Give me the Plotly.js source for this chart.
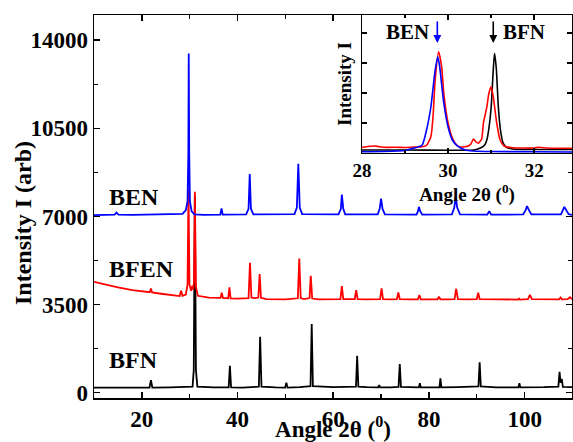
<!DOCTYPE html>
<html><head><meta charset="utf-8">
<script src="https://cdn.plot.ly/plotly-3.0.1.min.js"></script>
<style>html,body{margin:0;padding:0;background:#fff}</style>
</head><body><div id="chart" style="width:573px;height:442px"></div>
<script>
// ---- main pattern data: [2theta, intensity] ----
const bfnPoints = [[10,200],[14,190],[18,195],[21.6,200],[21.9,500],[22.2,200],[26,210],[30.6,240],[30.85,900],[31.08,7800],[31.3,900],[31.6,240],[35,210],[38.15,210],[38.4,1070],[38.65,210],[41,200],[44.45,240],[44.72,2220],[45.0,240],[48,210],[49.95,200],[50.2,400],[50.45,200],[53,220],[55.25,260],[55.5,2730],[55.75,260],[60,220],[64.75,240],[65.0,1470],[65.25,240],[67,220],[69.4,210],[69.6,305],[69.8,210],[72,215],[73.65,230],[73.9,1140],[74.15,230],[76,220],[77.9,210],[78.1,373],[78.3,210],[80,215],[82.2,210],[82.4,570],[82.6,210],[86,220],[90.35,250],[90.6,1206],[90.85,250],[94,215],[98.7,210],[98.9,373],[99.1,210],[104,220],[107.05,240],[107.3,833],[107.5,400],[107.75,550],[108.0,230],[109.9,220]];
const bfenPoints = [[10,4400],[12,4300],[15,4180],[18,4070],[20,4010],[21.65,3990],[21.9,4140],[22.15,3980],[24,3930],[26,3880],[27.9,3840],[28.2,4050],[28.5,3850],[29.2,3900],[29.55,4300],[29.75,8100],[29.95,4300],[30.3,4050],[30.55,4250],[30.75,4100],[30.9,4400],[31.08,7976],[31.3,4200],[31.7,3850],[34,3780],[36.45,3765],[36.7,3970],[36.95,3765],[38.05,3750],[38.3,4180],[38.55,3750],[40,3740],[42.3,3760],[42.6,5160],[42.9,3780],[43.6,3760],[44.35,3780],[44.62,4710],[44.9,3770],[46,3720],[50,3710],[52.6,3750],[52.9,5330],[53.2,3760],[53.9,3720],[55.05,3760],[55.3,4640],[55.6,3740],[57,3710],[61.5,3720],[61.8,4230],[62.1,3720],[63,3710],[64.5,3720],[64.8,4075],[65.1,3720],[67,3710],[69.8,3720],[70.1,4140],[70.4,3720],[72,3710],[73.3,3720],[73.6,3980],[73.9,3720],[76,3710],[77.7,3710],[78.0,3876],[78.3,3710],[80,3705],[81.8,3710],[82.1,3810],[82.4,3710],[84,3705],[85.35,3720],[85.7,4128],[86.05,3720],[88,3705],[90.0,3720],[90.3,3970],[90.6,3720],[95,3705],[98.6,3700],[98.8,3740],[99.0,3700],[100.7,3720],[101.1,3890],[101.5,3720],[104,3705],[107.2,3710],[107.5,3780],[107.8,3710],[109,3720],[109.5,3790],[109.9,3715]];
const benPoints = [[10,7055],[13,7060],[14.3,7070],[14.7,7150],[15.1,7070],[18,7060],[22,7065],[26,7070],[28.5,7100],[29.2,7250],[29.55,7600],[29.72,9500],[29.8,13470],[29.9,9500],[30.05,7600],[30.4,7200],[31,7080],[33,7060],[36.4,7070],[36.65,7320],[36.9,7070],[41.8,7080],[42.3,7300],[42.55,8680],[42.8,7300],[43.3,7080],[51.9,7090],[52.4,7350],[52.7,9090],[53.0,7350],[53.5,7090],[61.1,7080],[61.6,7300],[61.8,7870],[62.1,7300],[62.5,7080],[69.3,7080],[69.7,7300],[70.0,7710],[70.3,7300],[70.8,7080],[77.4,7070],[77.7,7200],[77.9,7380],[78.2,7200],[78.6,7070],[84.8,7080],[85.3,7350],[85.6,7780],[85.9,7350],[86.5,7080],[92.2,7070],[92.6,7210],[93.0,7070],[99.7,7080],[100.2,7250],[100.5,7410],[100.9,7250],[101.4,7080],[107.6,7080],[108.0,7250],[108.3,7380],[108.7,7250],[109.2,7090],[109.9,7060]];

// ---- inset data (28-33 deg region, arbitrary units) ----
const insetBen = [[28.0,1.3],[28.5,1.5],[29.0,2.5],[29.12,4],[29.3,6],[29.4,8],[29.5,23],[29.6,46],[29.7,83],[29.76,96.3],[29.8,88],[29.9,50],[30.0,26],[30.1,13],[30.2,7.7],[30.4,3],[30.6,2],[31.0,1.5],[32.0,1.3],[32.9,1]];
const insetBfen = [[28.0,5.7],[28.1,6.2],[28.2,6.8],[28.3,7],[28.4,6.3],[28.6,5.6],[28.8,5.8],[29.0,5.5],[29.2,6],[29.4,6.3],[29.5,7.7],[29.6,16.3],[29.65,36.3],[29.7,73],[29.78,101.3],[29.85,86.3],[29.9,60],[30.0,30],[30.1,15],[30.2,8],[30.3,6],[30.47,7],[30.53,9],[30.59,14],[30.65,11],[30.7,9.7],[30.78,14],[30.82,29.7],[30.9,46],[30.95,60],[31.0,66.3],[31.05,56.3],[31.13,30],[31.21,13],[31.3,7],[31.5,5.3],[32.0,5],[32.1,5.7],[32.3,5],[32.6,4.7],[32.9,4.7]];
const insetBfn = [[28.0,3],[29.0,3],[30.0,2.8],[30.6,3],[30.75,5],[30.85,8],[30.9,13],[30.95,25],[31.0,45],[31.05,83],[31.08,99.7],[31.12,85],[31.17,45],[31.22,22],[31.28,10],[31.35,6],[31.5,4],[32.0,3.5],[32.9,3.5]];

const xs = p => p.map(d => d[0]);
const ys = p => p.map(d => d[1]);

const FONT = 'Liberation Serif, Times New Roman, serif';
const mainLine = c => ({color: c, width: 1.8});
const insetLine = c => ({color: c, width: 1.6, shape: 'spline', smoothing: 0.6});

const traces = [
  {x: xs(bfnPoints), y: ys(bfnPoints), type: 'scatter', mode: 'lines', line: mainLine('#000000'), name: 'BFN', xaxis: 'x', yaxis: 'y'},
  {x: xs(bfenPoints), y: ys(bfenPoints), type: 'scatter', mode: 'lines', line: mainLine('#ff0000'), name: 'BFEN', xaxis: 'x', yaxis: 'y'},
  {x: xs(benPoints), y: ys(benPoints), type: 'scatter', mode: 'lines', line: mainLine('#0000ff'), name: 'BEN', xaxis: 'x', yaxis: 'y'},
  {x: xs(insetBfn), y: ys(insetBfn), type: 'scatter', mode: 'lines', line: insetLine('#000000'), name: 'BFN', xaxis: 'x2', yaxis: 'y2'},
  {x: xs(insetBfen), y: ys(insetBfen), type: 'scatter', mode: 'lines', line: insetLine('#ff0000'), name: 'BFEN', xaxis: 'x2', yaxis: 'y2'},
  {x: xs(insetBen), y: ys(insetBen), type: 'scatter', mode: 'lines', line: insetLine('#0000ff'), name: 'BEN', xaxis: 'x2', yaxis: 'y2'}
];

const bold = (s, c) => ({family: FONT, size: s, color: c || '#000', weight: 'bold'});

const layout = {
  width: 573, height: 442,
  margin: {l: 94, r: 1, t: 15, b: 44},
  paper_bgcolor: '#fff', plot_bgcolor: '#fff',
  showlegend: false,
  xaxis: {
    domain: [0, 1], range: [10, 109.9], tick0: 0, dtick: 20,
    ticks: 'inside', ticklen: 6, tickwidth: 1.5, tickcolor: '#000',
    minor: {dtick: 10, ticks: 'inside', ticklen: 4, tickwidth: 1.2, tickcolor: '#000'},
    showline: true, linecolor: '#000', linewidth: 1.5, mirror: 'ticks',
    showgrid: false, zeroline: false,
    tickfont: bold(23),
    title: {text: 'Angle 2θ (<sup>0</sup>)', font: bold(23), standoff: 0}
  },
  yaxis: {
    domain: [0, 1], range: [-210, 15000], tick0: 0, dtick: 3500, tickformat: 'd',
    ticks: 'inside', ticklen: 6, tickwidth: 1.5, tickcolor: '#000',
    minor: {dtick: 1750, ticks: 'inside', ticklen: 4, tickwidth: 1.2, tickcolor: '#000'},
    showline: true, linecolor: '#000', linewidth: 1.5, mirror: 'ticks',
    showgrid: false, zeroline: false,
    tickfont: bold(23)
  },
  xaxis2: {
    domain: [0.5607, 1], anchor: 'y2', range: [28, 32.88], tick0: 28, dtick: 2,
    ticks: 'inside', ticklen: 5, tickwidth: 1.3, tickcolor: '#000',
    minor: {dtick: 1, ticks: 'inside', ticklen: 3, tickcolor: '#000'},
    showline: true, linecolor: '#000', linewidth: 1.5, mirror: 'ticks',
    showgrid: false, zeroline: false,
    tickfont: bold(19),
    title: {text: 'Angle 2θ (<sup>0</sup>)', font: bold(19), standoff: 0}
  },
  yaxis2: {
    domain: [0.6397, 1], anchor: 'x2', range: [0, 138], tick0: 0, dtick: 30,
    ticks: 'inside', ticklen: 5, tickwidth: 1.3, tickcolor: '#000',
    showticklabels: false,
    showline: true, linecolor: '#000', linewidth: 1.5, mirror: 'ticks',
    showgrid: false, zeroline: false,
    title: {text: 'Intensity I', font: bold(19), standoff: 4}
  },
  annotations: [
    {xref: 'paper', yref: 'paper', x: -0.1485, y: 0.457, xanchor: 'center', yanchor: 'middle', textangle: -90, text: 'Intensity I (arb)', showarrow: false, font: bold(24)},
    {xref: 'x', yref: 'y', x: 12.7, y: 7768, xanchor: 'left', yanchor: 'middle', text: 'BEN', showarrow: false, font: bold(24)},
    {xref: 'x', yref: 'y', x: 12.7, y: 4930, xanchor: 'left', yanchor: 'middle', text: 'BFEN', showarrow: false, font: bold(24)},
    {xref: 'x', yref: 'y', x: 12.7, y: 1318, xanchor: 'left', yanchor: 'middle', text: 'BFN', showarrow: false, font: bold(24)},
    {xref: 'x2', yref: 'y2', x: 29.06, y: 121, xanchor: 'center', yanchor: 'middle', text: 'BEN', showarrow: false, font: bold(21)},
    {xref: 'x2', yref: 'y2', x: 31.76, y: 121, xanchor: 'center', yanchor: 'middle', text: 'BFN', showarrow: false, font: bold(21)},
    {xref: 'x2', yref: 'y2', x: 29.75, y: 110, ax: 0, ay: -23, text: '', showarrow: true, arrowhead: 2, arrowsize: 1, arrowwidth: 1.6, arrowcolor: '#0000ff'},
    {xref: 'x2', yref: 'y2', x: 31.05, y: 110, ax: 0, ay: -23, text: '', showarrow: true, arrowhead: 2, arrowsize: 1, arrowwidth: 1.6, arrowcolor: '#000000'}
  ]
};

Plotly.newPlot('chart', traces, layout, {staticPlot: true, displayModeBar: false});
</script></body></html>
